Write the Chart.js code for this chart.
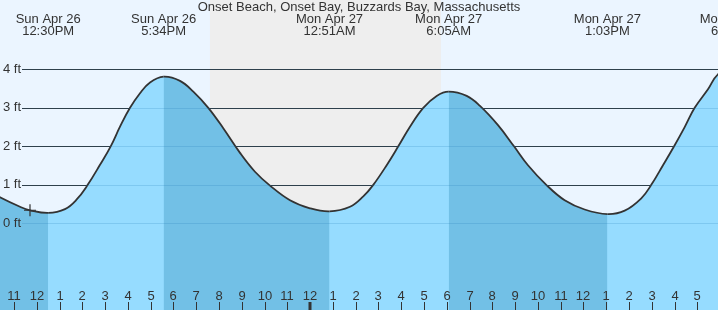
<!DOCTYPE html>
<html lang="en">
<head>
  <meta charset="UTF-8">
  <title>Onset Beach tide chart</title>
  <script src="https://cdn.jsdelivr.net/npm/chart.js"></script>
  <style>
    body { margin: 0; padding: 0; background: #fff; }
    #chartContainer { width: 718px; height: 310px; position: relative; }
  </style>
</head>
<body>
  <div id="chartContainer">
    <canvas id="tideChart"></canvas>
  </div>
  <script>
    // hours counted from Sun Apr 26 00:00
    const tideHours = [9.4, 10.385, 11.263, 11.702, 12.5, 13.238, 13.752, 14.235, 14.775, 15.245, 15.653,
      16.092, 16.531, 16.97, 17.567, 18.287, 18.871, 19.529, 20.187, 20.921, 21.579, 22.238,
      23.116, 23.994, 24.85, 25.75, 26.333, 26.772, 27.36, 27.87, 28.383, 28.967, 29.555,
      30.083, 30.872, 31.456, 32.247, 32.949, 33.563, 34.367, 35.174, 36.052, 37.05, 37.809,
      38.537, 38.976, 39.49, 40.003, 40.442, 40.881, 41.465, 41.904, 42.58, 43.6];
    const tideFeet = [1.0, 0.675, 0.43, 0.34, 0.27, 0.37, 0.62, 1.0, 1.52, 2.0, 2.51,
      3.0, 3.38, 3.66, 3.81, 3.70, 3.42, 3.0, 2.47, 1.83, 1.34, 0.98,
      0.60, 0.39, 0.31, 0.43, 0.70, 1.0, 1.51, 2.0, 2.51, 3.0, 3.31,
      3.42, 3.31, 3.05, 2.55, 2.0, 1.51, 1.0, 0.60, 0.36, 0.24, 0.33,
      0.65, 1.0, 1.51, 2.03, 2.5, 3.0, 3.48, 3.87, 4.05, 3.8];

    const extremeHours = [12.5, 17.567, 24.85, 30.083, 37.05, 42.58];
    const extremeDays = ['Sun Apr 26', 'Sun Apr 26', 'Mon Apr 27', 'Mon Apr 27', 'Mon Apr 27', 'Mon Apr 27'];
    const extremeTimes = ['12:30PM', '5:34PM', '12:51AM', '6:05AM', '1:03PM', '6:35PM'];

    const nowHour = [11.702];
    const nowFeet = [0.34];

    const nightStart = [19.6];
    const nightEnd = [29.74];

    const feetTicks = [0, 1, 2, 3, 4];
    const feetLabels = ['0 ft', '1 ft', '2 ft', '3 ft', '4 ft'];

    const title = 'Onset Beach, Onset Bay, Buzzards Bay, Massachusetts';

    const FONT = '13px "Liberation Sans", Arial, sans-serif';
    const TEXT = '#333333';
    const DAY = '#ebf5ff';
    const NIGHT = '#eeeeee';
    const RISING = '#96dcff';
    const FALLING = '#72c0e6';

    const decor = {
      id: 'decor',
      beforeDatasetsDraw(chart) {
        const { ctx, chartArea: a, scales: { x, y } } = chart;
        ctx.save();
        ctx.fillStyle = DAY;
        ctx.fillRect(a.left, a.top, a.width, a.height);
        ctx.fillStyle = NIGHT;
        nightStart.forEach((s, i) => {
          const x0 = x.getPixelForValue(s);
          const x1 = x.getPixelForValue(nightEnd[i]);
          ctx.fillRect(x0, a.top, x1 - x0, a.height);
        });
        ctx.strokeStyle = TEXT;
        ctx.lineWidth = 1;
        feetTicks.forEach(v => {
          const py = Math.round(y.getPixelForValue(v)) + 0.5;
          ctx.beginPath();
          ctx.moveTo(22, py);
          ctx.lineTo(a.right, py);
          ctx.stroke();
        });
        ctx.restore();
      },
      afterDatasetsDraw(chart) {
        const { ctx, chartArea: a, scales: { x, y } } = chart;
        ctx.save();
        // faint grid lines showing through the water
        ctx.strokeStyle = 'rgba(30,120,180,0.2)';
        ctx.lineWidth = 1;
        feetTicks.forEach(v => {
          const py = Math.round(y.getPixelForValue(v)) + 0.5;
          ctx.beginPath();
          ctx.moveTo(22, py);
          ctx.lineTo(a.right, py);
          ctx.stroke();
        });

        ctx.font = FONT;
        ctx.fillStyle = TEXT;
        ctx.textBaseline = 'middle';

        // y labels
        ctx.textAlign = 'left';
        feetTicks.forEach((v, i) => {
          ctx.fillText(feetLabels[i], 3, y.getPixelForValue(v));
        });

        // title and high/low labels
        ctx.textAlign = 'center';
        ctx.fillText(title, 359, 7);
        extremeHours.forEach((h, i) => {
          const px = x.getPixelForValue(h);
          ctx.fillText(extremeDays[i], px, 19.5);
          ctx.fillText(extremeTimes[i], px, 31.5);
        });

        // hour ticks along the bottom
        ctx.strokeStyle = TEXT;
        for (let h = Math.ceil(x.min); h <= Math.floor(x.max); h++) {
          const px = Math.round(x.getPixelForValue(h));
          const lbl = (h % 12) || 12;
          ctx.fillText(String(lbl), px, 296);
          const midnight = h % 24 === 0;
          ctx.lineWidth = midnight ? 3 : 1;
          ctx.beginPath();
          ctx.moveTo(midnight ? px : px + 0.5, 302);
          ctx.lineTo(midnight ? px : px + 0.5, a.bottom);
          ctx.stroke();
        }
        ctx.restore();
      }
    };

    const tidePoints = tideHours.map((h, i) => ({ x: h, y: tideFeet[i] }));
    const nowPoints = nowHour.map((h, i) => ({ x: h, y: nowFeet[i] }));

    new Chart(document.getElementById('tideChart'), {
      type: 'line',
      data: {
        datasets: [
          {
            // "now" marker
            data: nowPoints,
            showLine: false,
            pointStyle: 'cross',
            pointRadius: 6,
            borderColor: TEXT,
            borderWidth: 1.2,
            order: 0
          },
          {
            // curve + darker fill while the tide falls
            data: tidePoints,
            borderColor: TEXT,
            borderWidth: 1.8,
            pointRadius: 0,
            tension: 0.4,
            fill: 'start',
            backgroundColor: 'rgba(0,0,0,0)',
            segment: {
              backgroundColor: c => c.p1.parsed.y < c.p0.parsed.y ? FALLING : 'rgba(0,0,0,0)'
            },
            order: 1
          },
          {
            // base water fill
            data: tidePoints,
            borderWidth: 0,
            pointRadius: 0,
            tension: 0.4,
            fill: 'start',
            backgroundColor: RISING,
            order: 2
          }
        ]
      },
      options: {
        responsive: true,
        maintainAspectRatio: false,
        animation: false,
        layout: { padding: 0, autoPadding: false },
        scales: {
          x: { type: 'linear', min: 10.385, max: 41.905, display: false },
          y: { min: -2.25, max: 5.80, display: false }
        },
        plugins: {
          legend: { display: false },
          tooltip: { enabled: false }
        }
      },
      plugins: [decor]
    });
  </script>
</body>
</html>
